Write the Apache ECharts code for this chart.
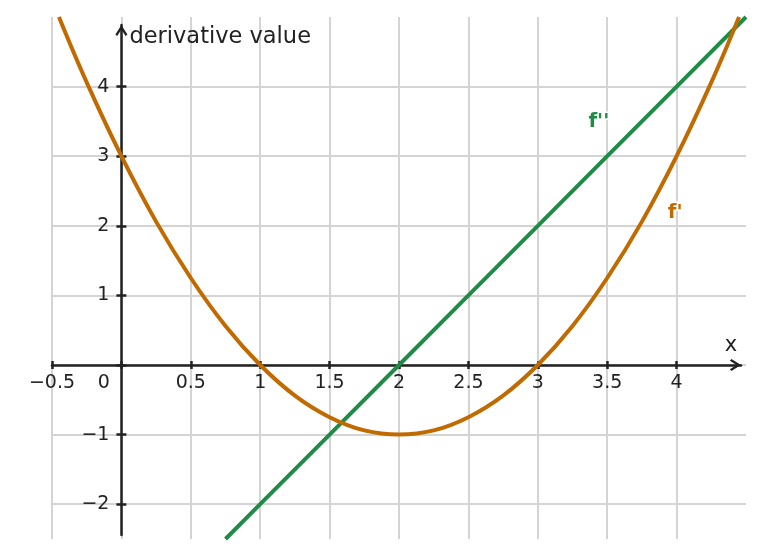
<!DOCTYPE html>
<html>
<head>
<meta charset="utf-8">
<script src="https://cdn.jsdelivr.net/npm/echarts@6/dist/echarts.min.js"></script>
<style>
html, body { margin: 0; padding: 0; background: #fff; }
#chart { width: 764px; height: 557px; }
</style>
</head>
<body>
<div id="chart"></div>
<script>
'use strict';

// f' (orange curve)
var firstX = [-0.45, -0.25, 0, 0.25, 0.5, 0.75, 1, 1.25, 1.5, 1.75, 2, 2.25, 2.5, 2.75, 3, 3.25, 3.5, 3.75, 4, 4.25, 4.45];
var firstY = [5, 4.06, 3, 2.06, 1.25, 0.56, 0, -0.44, -0.75, -0.94, -1, -0.94, -0.75, -0.44, 0, 0.56, 1.25, 2.06, 3, 4.06, 5];

// f'' (green line)
var secondX = [0.75, 1, 1.5, 2, 2.5, 3, 3.5, 4, 4.5];
var secondY = [-2.5, -2, -1, 0, 1, 2, 3, 4, 5];

// ticks / labels
var xTicks = [-0.5, 0, 0.5, 1, 1.5, 2, 2.5, 3, 3.5, 4];
var yTicks = [-2, -1, 0, 1, 2, 3, 4];
var yLabels = [-2, -1, 1, 2, 3, 4];

// where the curve names sit (data coords)
var firstLabelAt = [3.99, 2.18];
var secondLabelAt = [3.44, 3.5];

var ORANGE = '#c06a00';
var GREEN = '#1f8c46';
var INK = '#222';
var FONT = 'DejaVu Sans';

var X_MIN = -0.5, X_MAX = 4.5, Y_MIN = -2.5, Y_MAX = 5;
var W = 764, H = 557;
var G = { left: 52, right: 18, top: 17, bottom: 18 };
// the two axis lines stop a little short of the plot area (arrow tips)
var A = { left: 52, right: 23, top: 25, bottom: 22 };

var gridW = W - G.left - G.right;
var gridH = H - G.top - G.bottom;
var zeroX = G.left + gridW * (0 - X_MIN) / (X_MAX - X_MIN);
var zeroY = G.top + gridH * (Y_MAX - 0) / (Y_MAX - Y_MIN);

// offsets that move the edge axes onto the origin
var xAxisOffset = -(H - G.bottom - zeroY);
var yAxisOffset = -(zeroX - G.left);
var xLineOffset = -(H - A.bottom - zeroY);
var yLineOffset = -(zeroX - A.left);

// chevron arrow, tip placed at the centre of its box
var ARROW = 'path://M10,0 L20,16 L17,18.5 L10,7.5 L3,18.5 L0,16 Z M10,-18.5 L10.01,-18.5 L10,-18.49 Z';

function pairs(xs, ys) {
	var res = [];
	for (var i = 0; i < xs.length; i++) {
		res.push([xs[i], ys[i]]);
	}
	return res;
}

function fmt(v) {
	if (v === 0) return '{o|0}';
	var s = String(Math.abs(v));
	return v < 0 ? '\u2212' + s : s;
}

var dom = document.getElementById('chart');
var myChart = echarts.init(dom, null, { renderer: 'canvas' });

var tickLine = { color: INK, width: 2.5 };
var gridLine = { show: true, lineStyle: { color: '#d4d4d4', width: 2 } };
var axisArrow = { show: true, onZero: false, symbol: ['none', ARROW], symbolSize: [12, 22.2], lineStyle: { color: INK, width: 2.5 } };

var option = {
	animation: false,
	backgroundColor: '#fff',
	grid: [
		{ left: G.left, right: G.right, top: G.top, bottom: G.bottom, containLabel: false, outerBoundsMode: 'none' },
		{ left: A.left, right: A.right, top: A.top, bottom: A.bottom, containLabel: false, outerBoundsMode: 'none' }
	],
	xAxis: [{
		type: 'value',
		gridIndex: 0,
		position: 'bottom',
		offset: xAxisOffset,
		min: X_MIN,
		max: X_MAX,
		name: 'x',
		nameLocation: 'end',
		nameGap: -15,
		nameTextStyle: { fontFamily: FONT, fontSize: 21, color: INK, align: 'center', verticalAlign: 'bottom', padding: [0, 0, 9, 0] },
		axisLine: { show: false, onZero: false },
		axisTick: { show: true, inside: false, length: 4, customValues: xTicks, lineStyle: tickLine },
		axisLabel: {
			show: true,
			margin: 9,
			customValues: xTicks,
			fontFamily: FONT,
			fontSize: 19,
			color: INK,
			formatter: fmt,
			rich: { o: { fontFamily: FONT, fontSize: 19, color: INK, padding: [0, 35, 0, 0] } }
		},
		splitLine: gridLine
	}, {
		type: 'value',
		gridIndex: 0,
		position: 'bottom',
		offset: xAxisOffset,
		min: X_MIN,
		max: X_MAX,
		axisLine: { show: false, onZero: false },
		axisTick: { show: true, inside: true, length: 4, customValues: xTicks, lineStyle: tickLine },
		axisLabel: { show: false },
		splitLine: { show: false }
	}, {
		type: 'value',
		gridIndex: 1,
		position: 'bottom',
		offset: xLineOffset,
		min: 0,
		max: 1,
		axisLine: axisArrow,
		axisTick: { show: false },
		axisLabel: { show: false },
		splitLine: { show: false }
	}],
	yAxis: [{
		type: 'value',
		gridIndex: 0,
		position: 'left',
		offset: yAxisOffset,
		min: Y_MIN,
		max: Y_MAX,
		name: 'derivative value',
		nameLocation: 'end',
		nameGap: -20,
		nameTextStyle: { fontFamily: FONT, fontSize: 22.5, color: INK, align: 'left', verticalAlign: 'middle', padding: [0, 0, 0, 8] },
		axisLine: { show: false, onZero: false },
		axisTick: { show: true, inside: false, length: 5, customValues: yTicks, lineStyle: tickLine },
		axisLabel: {
			show: true,
			margin: 12,
			customValues: yLabels,
			fontFamily: FONT,
			fontSize: 19,
			color: INK,
			formatter: fmt
		},
		splitLine: gridLine
	}, {
		type: 'value',
		gridIndex: 0,
		position: 'left',
		offset: yAxisOffset,
		min: Y_MIN,
		max: Y_MAX,
		axisLine: { show: false, onZero: false },
		axisTick: { show: true, inside: true, length: 5, customValues: yTicks, lineStyle: tickLine },
		axisLabel: { show: false },
		splitLine: { show: false }
	}, {
		type: 'value',
		gridIndex: 1,
		position: 'left',
		offset: yLineOffset,
		min: 0,
		max: 1,
		axisLine: axisArrow,
		axisTick: { show: false },
		axisLabel: { show: false },
		splitLine: { show: false }
	}],
	series: [{
		name: "f''",
		type: 'line',
		xAxisIndex: 0,
		yAxisIndex: 0,
		data: pairs(secondX, secondY),
		showSymbol: false,
		clip: true,
		z: 5,
		lineStyle: { color: GREEN, width: 4 },
		markPoint: {
			symbol: 'circle',
			symbolSize: 1,
			itemStyle: { color: 'rgba(0,0,0,0)' },
			label: {
				show: true, position: 'inside', formatter: "f''",
				fontFamily: FONT, fontSize: 20, fontWeight: 'bold', color: GREEN,
				textBorderColor: '#fff', textBorderWidth: 3
			},
			data: [{ coord: secondLabelAt }]
		}
	}, {
		name: "f'",
		type: 'line',
		xAxisIndex: 0,
		yAxisIndex: 0,
		data: pairs(firstX, firstY),
		smooth: 0.4,
		showSymbol: false,
		clip: true,
		z: 5,
		lineStyle: { color: ORANGE, width: 4 },
		markPoint: {
			symbol: 'circle',
			symbolSize: 1,
			itemStyle: { color: 'rgba(0,0,0,0)' },
			label: {
				show: true, position: 'inside', formatter: "f'",
				fontFamily: FONT, fontSize: 20, fontWeight: 'bold', color: ORANGE,
				textBorderColor: '#fff', textBorderWidth: 3
			},
			data: [{ coord: firstLabelAt }]
		}
	}]
};

myChart.setOption(option);
</script>
</body>
</html>
